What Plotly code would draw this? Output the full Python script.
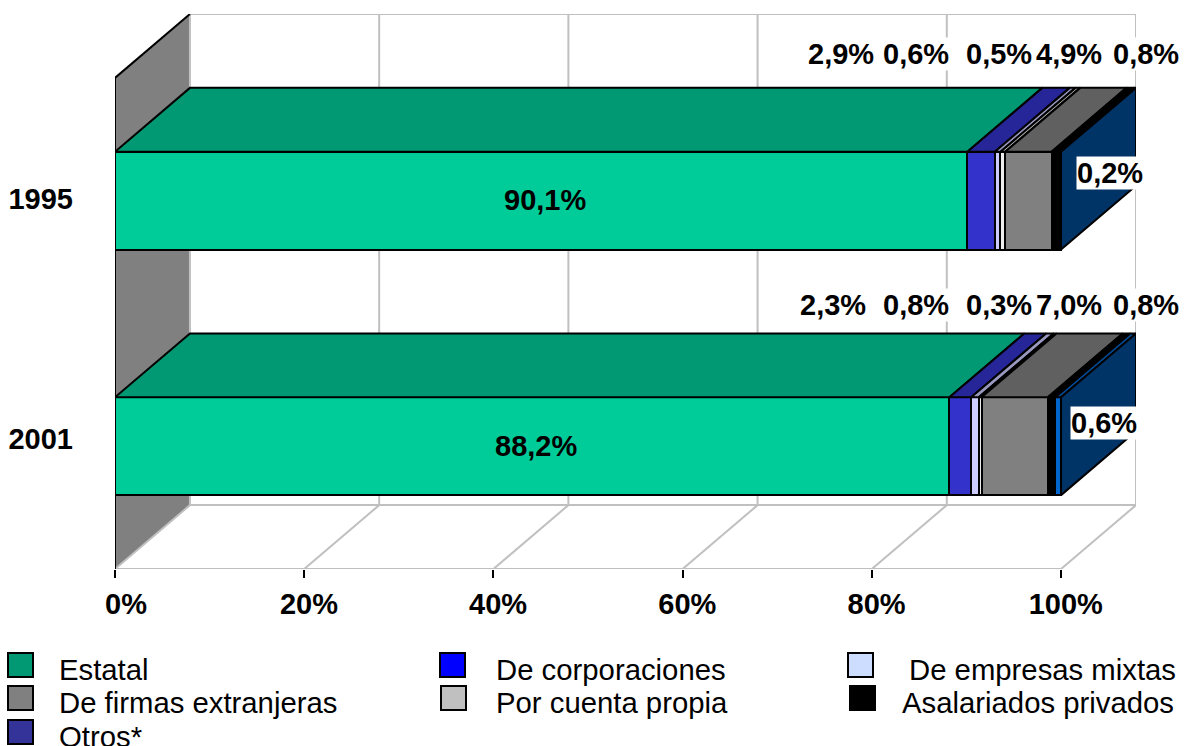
import plotly.graph_objects as go
import numpy as np

years = ["2001", "1995"]
row_pos = [0, 1]
series_names = ["Estatal", "Otros*", "De empresas mixtas", "Por cuenta propia",
                "De firmas extranjeras", "Asalariados privados", "De corporaciones"]
v_2001 = [88.2, 2.3, 0.8, 0.3, 7.0, 0.8, 0.6]
v_1995 = [90.1, 2.9, 0.6, 0.5, 4.9, 0.8, 0.2]
front_colors = ["#00CC99", "#3333CC", "#CCCCFF", "#EEEEEE", "#808080", "#000000", "#0066CC"]
top_colors = ["#009973", "#262699", "#9999BF", "#B2B2B2", "#606060", "#000000", "#004C99"]
side_color = "#003366"
x_ticks = [0, 20, 40, 60, 80, 100]
x_labels = ["0%", "20%", "40%", "60%", "80%", "100%"]
legend_colors = {"Estatal": "#009973", "De corporaciones": "#0000FF", "De empresas mixtas": "#CCDDFF",
                 "De firmas extranjeras": "#808080", "Por cuenta propia": "#C0C0C0",
                 "Asalariados privados": "#000000", "Otros*": "#333399"}

W, H = 1184, 746
L, R, T, B = 115, 1136, 14, 569   # plot area in pixels
UX = 9.465                        # pixels per percent
UY = 246                          # pixels per category
DX = 75 / UX                      # depth offset in x units
DY = 64 / UY                      # depth offset in y units
BAR = 98 / UY
XMAX = 100 + DX
YMIN, YMAX = -0.5, 1.5 + DY
FONT = "Liberation Sans, Arial, sans-serif"
GRID = "#C0C0C0"
def fmt(v):
    return f"{v:.1f}%".replace(".", ",")
def px(p):
    return (p - L) / (R - L)
def py(p):
    return (B - p) / (B - T)

# label nudges, as in the reference (its tick labels sit right of their ticks)
x_label_pos = [t + (11 if t == 0 else 4.7) / UX for t in x_ticks]
y_label_pos = [(446 - 439) / UY, (446 - 198.5) / UY]

fig = go.Figure()
rows = np.array([v_2001, v_1995])
cum = np.cumsum(rows, axis=1)
start = cum - rows

for i, name in enumerate(series_names):
    fig.add_trace(go.Bar(y=row_pos, x=rows[:, i], name=name, orientation="h", width=BAR,
                         marker=dict(color=front_colors[i], line=dict(color="black", width=2)),
                         showlegend=False, hoverinfo="skip"))

for r, yc in enumerate(row_pos):
    yt = yc + BAR / 2
    yb = yc - BAR / 2
    for i, name in enumerate(series_names):
        a, b = start[r, i], cum[r, i]
        fig.add_trace(go.Scatter(x=[a, b, b + DX, a + DX, a], y=[yt, yt, yt + DY, yt + DY, yt],
                                 mode="lines", fill="toself", fillcolor=top_colors[i],
                                 line=dict(color="black", width=2), showlegend=False, hoverinfo="skip"))
    e = cum[r, -1]
    fig.add_trace(go.Scatter(x=[e, e, e + DX, e + DX, e], y=[yb, yt, yt + DY, yb + DY, yb],
                             mode="lines", fill="toself", fillcolor=side_color,
                             line=dict(color="black", width=2), showlegend=False, hoverinfo="skip"))

shapes = []
def line(x0, y0, x1, y1, color=GRID, width=2, layer="below", xref="x", yref="y"):
    shapes.append(dict(type="line", x0=x0, y0=y0, x1=x1, y1=y1, xref=xref, yref=yref, layer=layer,
                       line=dict(color=color, width=width)))
# left wall
shapes.append(dict(type="path", layer="below", xref="x", yref="y", fillcolor="#808080",
                   path=f"M0,{YMIN} L{DX},{YMIN+DY} L{DX},{YMAX} L0,{1.5} Z",
                   line=dict(color="black", width=0)))
for t in x_ticks:
    line(t + DX, YMIN + DY, t + DX, YMAX)
    line(t, YMIN, t + DX, YMIN + DY)
line(DX, YMAX, 100 + DX, YMAX)
line(DX, YMIN + DY, 100 + DX, YMIN + DY)
line(0, YMIN, 100, YMIN)
line(0, 1.5, DX, YMAX, "black", 2, "above")
line(0, YMIN, 0, 1.5, "black", 2, "above")

ann = []
def label(text, x, y, bg=True):
    ann.append(dict(text=f"<b>{text}</b>", x=px(x), y=py(y), xref="paper", yref="paper", showarrow=False,
                    xanchor="center", yanchor="middle", font=dict(family=FONT, size=29, color="black"),
                    bgcolor="white" if bg else None, borderpad=0))

top_x = [None, 841, 916, 999, 1069, 1146]
top_x2 = [None, 833, 916, 999, 1069, 1146]
for i in range(1, 6):
    label(fmt(rows[1, i]), top_x[i], 54)
    label(fmt(rows[0, i]), top_x2[i], 305)
label(fmt(rows[1, 6]), 1110, 173)
label(fmt(rows[0, 6]), 1104, 423)
label(fmt(rows[1, 0]), 544.5, 200, False)
label(fmt(rows[0, 0]), 536, 446, False)

legend_items = [("Estatal", 8, 653, 58), ("De firmas extranjeras", 8, 686, 58), ("Otros*", 8, 720, 58),
                ("De corporaciones", 440, 653, 495), ("Por cuenta propia", 441, 686, 495),
                ("De empresas mixtas", 848, 653, 908), ("Asalariados privados", 850, 686, 901)]
for name, sx, sy, tx in legend_items:
    shapes.append(dict(type="rect", xref="paper", yref="paper", x0=px(sx), x1=px(sx + 25), y0=py(sy), y1=py(sy + 24),
                       fillcolor=legend_colors[name], line=dict(color="black", width=2)))
    ann.append(dict(text=name, x=px(tx), y=py(sy + 16), xref="paper", yref="paper", showarrow=False,
                    xanchor="left", yanchor="middle", font=dict(family=FONT, size=29.3, color="black"), borderpad=0))

fig.update_layout(
    width=W, height=H, barmode="stack", paper_bgcolor="white", plot_bgcolor="white",
    margin=dict(l=L, r=W - R, t=T, b=H - B, pad=0, autoexpand=False), shapes=shapes, annotations=ann,
    font=dict(family=FONT, size=29, color="black"), showlegend=False,
    xaxis=dict(range=[0, XMAX], tickvals=x_label_pos, ticktext=[f"<b>{s}</b>" for s in x_labels], showgrid=False,
               automargin=False, zeroline=False, showline=False, ticks="",
               minor=dict(tickmode="array", tickvals=x_ticks, ticks="outside", ticklen=8, tickwidth=2,
                          tickcolor="black", showgrid=False),
               tickfont=dict(family=FONT, size=29, color="black"), ticklabelstandoff=15),
    yaxis=dict(range=[YMIN, YMAX], tickvals=y_label_pos, ticktext=[f"<b>{y}</b>" for y in years], showgrid=False,
               automargin=False, zeroline=False, showline=False, ticks="",
               tickfont=dict(family=FONT, size=29, color="black"), ticklabelstandoff=41),
)
fig.write_html("out.html", post_script="document.body.style.margin='0';", config=dict(displayModeBar=False))
